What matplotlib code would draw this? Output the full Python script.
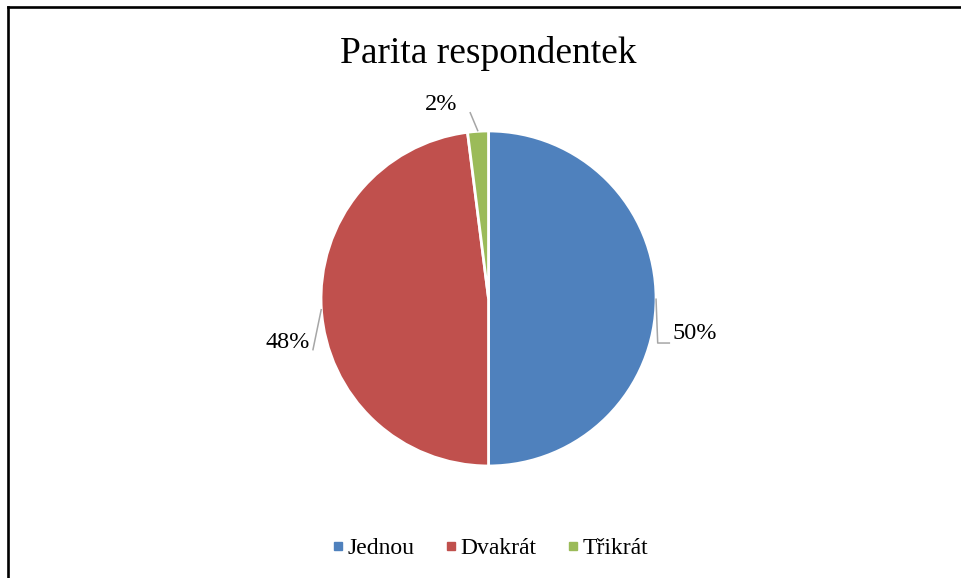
import numpy as np
import matplotlib.pyplot as plt
from matplotlib.lines import Line2D

labels = ['Jednou', 'Dvakrát', 'Třikrát']
values = [50, 48, 2]
colors = ['#4F81BD', '#C0504D', '#9BBB59']
title = 'Parita respondentek'

# label placement (in radius units) and leader-line end points
label_pos = [(1.096, -0.212, 'left'), (-1.066, -0.26, 'right'), (-0.284, 1.16, 'center')]
leader_ends = [[(1.01, -0.266), (1.084, -0.266)], [(-1.049, -0.31)], [(-0.111, 1.113)]]

plt.rcParams['font.family'] = ['Liberation Serif', 'DejaVu Serif']


def main():
    fig = plt.figure(figsize=(9.61, 5.78), dpi=100)
    ax = fig.add_axes([0.2469, 0.0489, 0.5229, 0.8694])

    wedges, _ = ax.pie(values, colors=colors, startangle=90, counterclock=False,
                       radius=1, wedgeprops=dict(edgecolor='white', linewidth=2))
    ax.set_xlim(-1.5, 1.5)
    ax.set_ylim(-1.5, 1.5)
    ax.axis('off')

    total = sum(values)
    for w, v, (lx, ly, ha), ends in zip(wedges, values, label_pos, leader_ends):
        mid = np.deg2rad((w.theta1 + w.theta2) / 2)
        pts = [(np.cos(mid), np.sin(mid))] + ends
        xs, ys = zip(*pts)
        ax.plot(xs, ys, color='#A6A6A6', lw=1.1, solid_capstyle='butt')
        ax.text(lx, ly, f'{round(v / total * 100)}%', ha=ha, va='center', fontsize=17.5)

    fig.text(0.508, 0.908, title, ha='center', va='center', fontsize=27)

    handles = [Line2D([], [], marker='s', ls='', color=c, markersize=5.8) for c in colors]
    fig.legend(handles, labels, loc='center', bbox_to_anchor=(0.511, 0.051), ncol=3,
               frameon=False, fontsize=17, handlelength=0.35, handletextpad=0.25,
               columnspacing=1.35)

    # chart border (only top and left visible)
    x0, y0 = 8 / 961, 1 - 7 / 578
    fig.add_artist(Line2D([x0, 1.01], [y0, y0], color='black', lw=1.9, transform=fig.transFigure))
    fig.add_artist(Line2D([x0, x0], [-0.01, y0], color='black', lw=1.9, transform=fig.transFigure))

    fig.savefig('out.png', dpi=100)


if __name__ == '__main__':
    main()
